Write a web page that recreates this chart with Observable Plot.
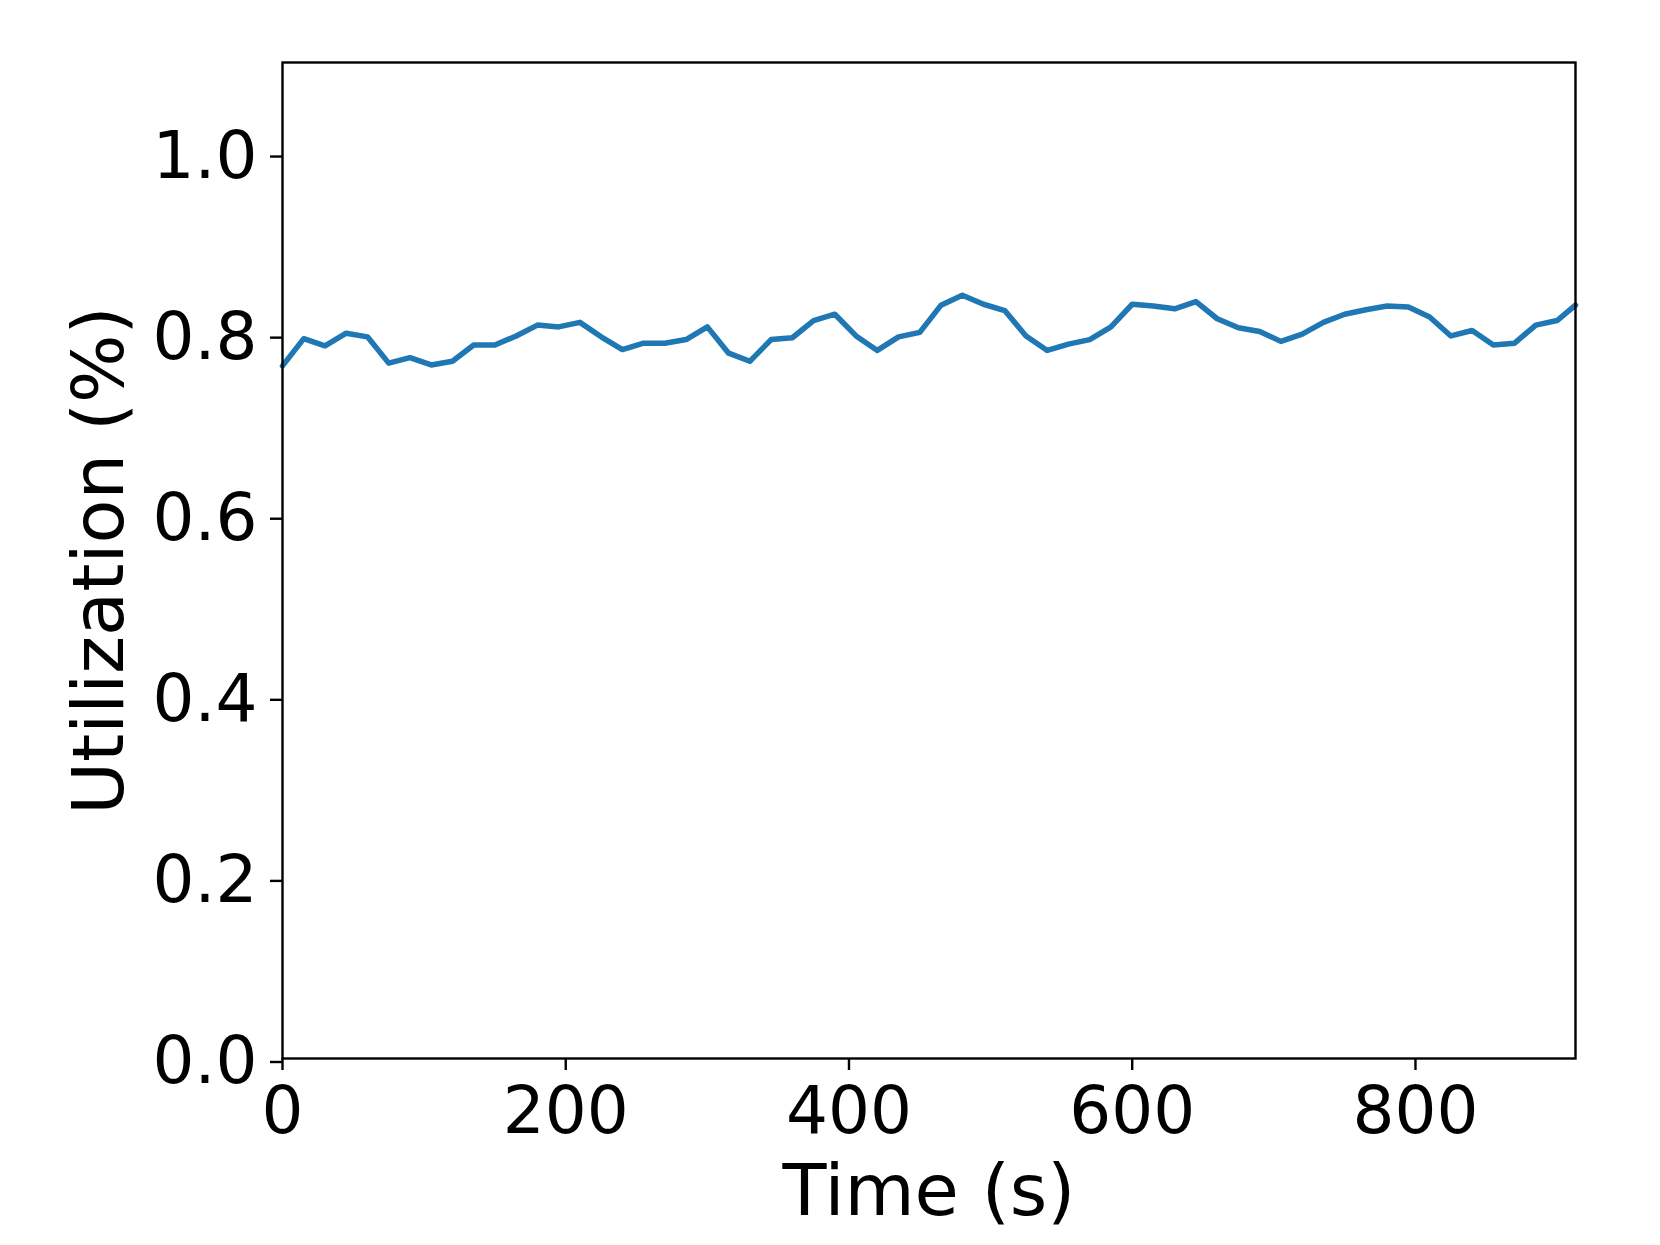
<!DOCTYPE html>
<html>
<head>
<meta charset="utf-8">
<script src="https://cdn.jsdelivr.net/npm/d3@7"></script>
<script src="https://cdn.jsdelivr.net/npm/@observablehq/plot@0.6"></script>
<style>
  html, body { margin: 0; padding: 0; background: #fff; }
  #chart svg { display: block; }
</style>
</head>
<body>
<div id="chart"></div>
<script>
const times = [0, 15, 30, 45, 60, 75, 90, 105, 120, 135, 150, 165, 180, 195, 210, 225, 240, 255, 270, 285,
  300, 315, 330, 345, 360, 375, 390, 405, 420, 435, 450, 465, 480, 495, 510, 525, 540, 555, 570, 585,
  600, 615, 630, 645, 660, 675, 690, 705, 720, 735, 750, 765, 780, 795, 810, 825, 840, 855, 870, 885,
  900, 913];
const utilization = [0.765, 0.795, 0.787, 0.801, 0.797, 0.768, 0.774, 0.766, 0.770, 0.788, 0.788, 0.798,
  0.810, 0.808, 0.813, 0.797, 0.783, 0.790, 0.790, 0.794, 0.808, 0.779, 0.770, 0.794, 0.796, 0.815,
  0.822, 0.798, 0.782, 0.797, 0.802, 0.832, 0.843, 0.833, 0.826, 0.798, 0.782, 0.789, 0.794, 0.808,
  0.833, 0.831, 0.828, 0.836, 0.817, 0.807, 0.803, 0.792, 0.800, 0.813, 0.822, 0.827, 0.831, 0.830,
  0.819, 0.798, 0.804, 0.788, 0.790, 0.810, 0.815, 0.832];
const xTicks = [0, 200, 400, 600, 800];
const yTicks = [0, 0.2, 0.4, 0.6, 0.8, 1.0];
const xLabel = "Time (s)";
const yLabel = "Utilization (%)";

const data = times.map((t, i) => ({t, u: utilization[i]}));

const chart = Plot.plot({
  width: 1660,
  height: 1245,
  marginLeft: 282,
  marginRight: 85,
  marginTop: 62,
  marginBottom: 187,
  style: {fontFamily: "'DejaVu Sans', sans-serif", fontSize: "66px", color: "black", background: "white"},
  x: {domain: d3.extent(times), label: null},
  y: {domain: [0, 1.1], label: null},
  marks: [
    Plot.line(data, {x: "t", y: "u", stroke: "#1f77b4", strokeWidth: 5.5}),
    Plot.frame({stroke: "black", strokeWidth: 2.4}),
    Plot.axisX({ticks: xTicks, tickSize: 12, tickPadding: 16, fontSize: 66, strokeWidth: 2.4,
      tickFormat: d3.format("d"), label: null, color: "black"}),
    Plot.axisY({ticks: yTicks, tickSize: 12, tickPadding: 13, fontSize: 66, strokeWidth: 2.4,
      tickFormat: d3.format(".1f"), label: null, dy: 3.5, color: "black"}),
    Plot.text([xLabel], {frameAnchor: "bottom", textAnchor: "middle", lineAnchor: "top", dy: 105, fontSize: 72, fill: "black"}),
    Plot.text([yLabel], {frameAnchor: "left", textAnchor: "middle", lineAnchor: "top", rotate: -90, dx: -211, fontSize: 72, fill: "black"})
  ]
});
document.getElementById("chart").appendChild(chart);
</script>
</body>
</html>
